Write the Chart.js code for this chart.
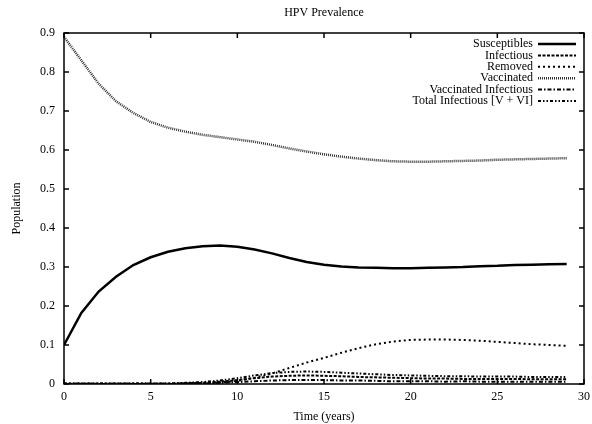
<!DOCTYPE html>
<html lang="en">
<head>
    <meta charset="UTF-8">
    <title>HPV Prevalence</title>
    <script src="https://cdn.jsdelivr.net/npm/chart.js"></script>
    <style>
        html, body { margin: 0; padding: 0; background: #fff; }
        #wrap { width: 592px; height: 424px; }
    </style>
</head>
<body>
    <div id="wrap"><canvas id="hpvChart"></canvas></div>

    <script>
        // Data (one point per year)
        const years = [0, 1, 2, 3, 4, 5, 6, 7, 8, 9, 10, 11, 12, 13, 14, 15, 16, 17, 18, 19, 20, 21, 22, 23, 24, 25, 26, 27, 28, 29];
        const susceptibles = [0.100, 0.182, 0.237, 0.275, 0.305, 0.325, 0.339, 0.348, 0.353, 0.355, 0.352, 0.345, 0.335, 0.323, 0.313, 0.306, 0.301, 0.299, 0.298, 0.297, 0.297, 0.298, 0.299, 0.300, 0.302, 0.303, 0.305, 0.306, 0.307, 0.308];
        const infectious = [0.001, 0.001, 0.001, 0.001, 0.001, 0.001, 0.001, 0.002, 0.003, 0.006, 0.010, 0.015, 0.019, 0.021, 0.022, 0.021, 0.020, 0.018, 0.017, 0.016, 0.015, 0.014, 0.014, 0.013, 0.013, 0.013, 0.013, 0.012, 0.012, 0.012];
        const removed = [0.000, 0.000, 0.000, 0.000, 0.000, 0.000, 0.000, 0.001, 0.002, 0.004, 0.008, 0.016, 0.027, 0.041, 0.055, 0.067, 0.080, 0.092, 0.102, 0.109, 0.113, 0.114, 0.114, 0.113, 0.111, 0.108, 0.105, 0.102, 0.100, 0.098];
        const vaccinated = [0.890, 0.830, 0.770, 0.725, 0.695, 0.672, 0.657, 0.647, 0.639, 0.633, 0.627, 0.621, 0.613, 0.604, 0.596, 0.589, 0.583, 0.578, 0.574, 0.571, 0.570, 0.570, 0.571, 0.572, 0.573, 0.575, 0.576, 0.577, 0.578, 0.579];
        const vaccInfectious = [0.000, 0.000, 0.000, 0.000, 0.000, 0.000, 0.000, 0.001, 0.002, 0.003, 0.005, 0.007, 0.009, 0.010, 0.010, 0.010, 0.009, 0.009, 0.008, 0.007, 0.007, 0.007, 0.006, 0.007, 0.006, 0.006, 0.006, 0.006, 0.006, 0.006];
        const totalInfectious = [0.001, 0.001, 0.001, 0.001, 0.001, 0.001, 0.001, 0.003, 0.005, 0.009, 0.015, 0.022, 0.028, 0.031, 0.032, 0.031, 0.029, 0.027, 0.025, 0.023, 0.022, 0.021, 0.020, 0.020, 0.019, 0.019, 0.019, 0.018, 0.018, 0.018];

        const xTicks = [0, 5, 10, 15, 20, 25, 30];
        const yTicks = [0, 0.1, 0.2, 0.3, 0.4, 0.5, 0.6, 0.7, 0.8, 0.9];

        const FONT = "'Liberation Serif', 'DejaVu Serif', serif";
        const FSIZE = 12;

        function toPoints(values) {
            return values.map((v, i) => ({ x: years[i], y: v }));
        }

        function makeSet(label, values, width, dash, color) {
            return {
                label: label,
                data: toPoints(values),
                borderColor: color || '#000',
                borderWidth: width,
                borderDash: dash,
                pointRadius: 0,
                tension: 0,
                fill: false
            };
        }

        // Box, inward mirror ticks, title and gnuplot-style legend
        const gnuplotFrame = {
            id: 'gnuplotFrame',
            afterDraw(chart) {
                const ctx = chart.ctx;
                const a = chart.chartArea;
                const xs = chart.scales.x, ys = chart.scales.y;
                ctx.save();
                ctx.strokeStyle = '#000';
                ctx.lineWidth = 1.5;
                ctx.setLineDash([]);
                ctx.strokeRect(a.left, a.top, a.right - a.left, a.bottom - a.top);

                ctx.beginPath();
                xTicks.forEach(t => {
                    const px = xs.getPixelForValue(t);
                    ctx.moveTo(px, a.bottom); ctx.lineTo(px, a.bottom - 5);
                    ctx.moveTo(px, a.top); ctx.lineTo(px, a.top + 5);
                });
                yTicks.forEach(t => {
                    const py = ys.getPixelForValue(t);
                    ctx.moveTo(a.left, py); ctx.lineTo(a.left + 5, py);
                    ctx.moveTo(a.right, py); ctx.lineTo(a.right - 5, py);
                });
                ctx.stroke();

                // title
                ctx.fillStyle = '#000';
                ctx.font = FSIZE + 'px ' + FONT;
                ctx.textAlign = 'center';
                ctx.textBaseline = 'middle';
                ctx.fillText('HPV Prevalence', (a.left + a.right) / 2, 13);

                // legend
                ctx.textAlign = 'right';
                chart.data.datasets.forEach((ds, i) => {
                    const y = 44 + i * 11.4;
                    ctx.fillStyle = '#000';
                    ctx.fillText(ds.label, 533, y);
                    ctx.beginPath();
                    ctx.strokeStyle = ds.borderColor;
                    ctx.lineWidth = ds.borderWidth;
                    ctx.setLineDash(ds.borderDash || []);
                    ctx.moveTo(538, y);
                    ctx.lineTo(576, y);
                    ctx.stroke();
                });
                ctx.restore();
            }
        };

        const ctx = document.getElementById('hpvChart').getContext('2d');
        new Chart(ctx, {
            type: 'line',
            data: {
                datasets: [
                    makeSet('Susceptibles', susceptibles, 2.5, []),
                    makeSet('Infectious', infectious, 2, [3, 1.5]),
                    makeSet('Removed', removed, 2, [2, 3]),
                    makeSet('Vaccinated', vaccinated, 2.5, [1, 1], '#333'),
                    makeSet('Vaccinated Infectious', vaccInfectious, 2, [4, 2, 1.5, 2]),
                    makeSet('Total Infectious [V + VI]', totalInfectious, 2, [3, 2, 1.5, 2, 1.5, 2])
                ]
            },
            options: {
                responsive: true,
                maintainAspectRatio: false,
                animation: false,
                layout: { padding: { top: 33, right: 8, left: 0, bottom: 0 } },
                plugins: {
                    legend: { display: false },
                    title: { display: false },
                    tooltip: { enabled: false }
                },
                scales: {
                    x: {
                        type: 'linear',
                        min: 0,
                        max: 30,
                        afterFit(scale) {
                            scale.height = 40;
                            scale.paddingLeft = 0;
                            scale.paddingRight = 0;
                        },
                        afterBuildTicks(scale) { scale.ticks = xTicks.map(v => ({ value: v })); },
                        grid: { display: false, drawTicks: false },
                        border: { display: false },
                        ticks: {
                            color: '#000',
                            padding: 6,
                            maxRotation: 0,
                            font: { family: FONT, size: FSIZE }
                        },
                        title: {
                            display: true,
                            text: 'Time (years)',
                            color: '#000',
                            padding: { top: 6, bottom: 0 },
                            font: { family: FONT, size: FSIZE }
                        }
                    },
                    y: {
                        min: 0,
                        max: 0.9,
                        afterFit(scale) {
                            scale.width = 64;
                            scale.paddingTop = 0;
                            scale.paddingBottom = 0;
                        },
                        afterBuildTicks(scale) { scale.ticks = yTicks.map(v => ({ value: v })); },
                        grid: { display: false, drawTicks: false },
                        border: { display: false },
                        ticks: {
                            color: '#000',
                            padding: 9,
                            font: { family: FONT, size: FSIZE },
                            callback: v => String(Math.round(v * 10) / 10)
                        },
                        title: {
                            display: true,
                            text: 'Population',
                            color: '#000',
                            padding: { top: 10, bottom: 0 },
                            font: { family: FONT, size: FSIZE }
                        }
                    }
                }
            },
            plugins: [gnuplotFrame]
        });
    </script>
</body>
</html>
